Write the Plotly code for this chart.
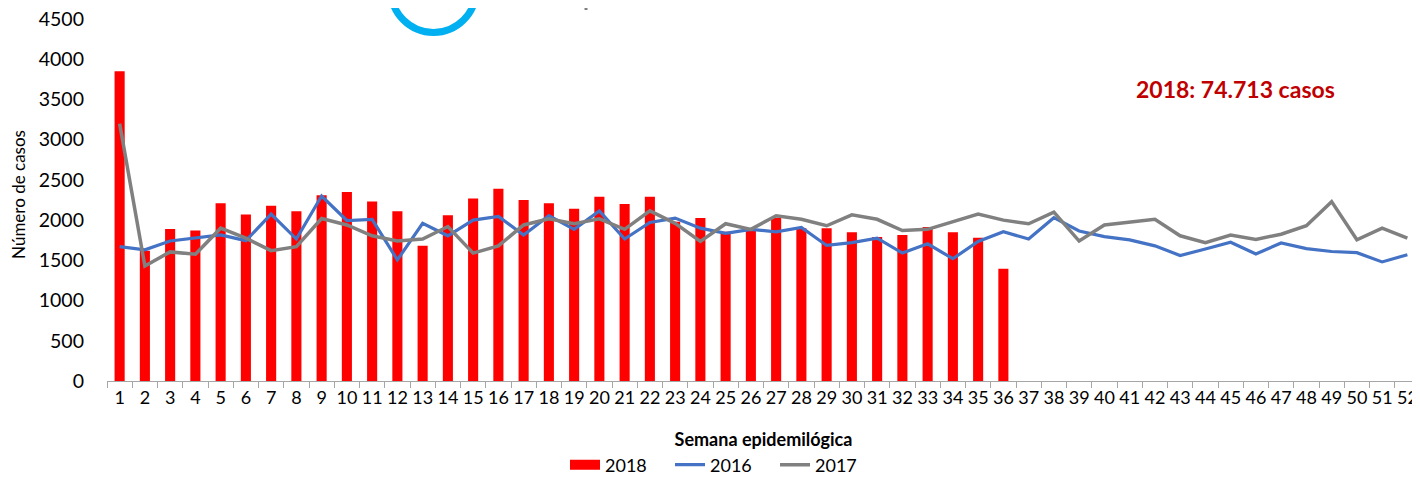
import plotly.graph_objects as go

weeks = [str(i) for i in range(1, 53)]

cases_2018 = [3850, 1620, 1890, 1870, 2210, 2070, 2180, 2110, 2310, 2350,
              2230, 2110, 1680, 2060, 2270, 2390, 2250, 2210, 2140, 2290,
              2200, 2290, 1980, 2025, 1855, 1880, 2030, 1900, 1900, 1850,
              1790, 1815, 1915, 1850, 1780, 1395]

cases_2016 = [1670, 1630, 1740, 1780, 1815, 1745, 2075, 1765, 2300, 1995,
              2010, 1505, 1960, 1805, 2000, 2045, 1815, 2055, 1885, 2115,
              1765, 1970, 2025, 1900, 1835, 1885, 1855, 1910, 1685, 1720,
              1775, 1590, 1705, 1520, 1735, 1855, 1765, 2030, 1865, 1795,
              1755, 1680, 1560, 1640, 1725, 1580, 1715, 1645, 1610, 1595,
              1480, 1570]

cases_2017 = [3200, 1430, 1605, 1575, 1900, 1775, 1620, 1670, 2020, 1940,
              1805, 1740, 1765, 1920, 1590, 1680, 1940, 2015, 1955, 2015,
              1885, 2115, 1960, 1735, 1955, 1885, 2055, 2010, 1930, 2065,
              2010, 1870, 1885, 1975, 2075, 2000, 1955, 2100, 1740, 1940,
              1975, 2010, 1805, 1720, 1815, 1760, 1825, 1930, 2230, 1755,
              1900, 1775]

y_ticks = [0, 500, 1000, 1500, 2000, 2500, 3000, 3500, 4000, 4500]

FONT = "Lato"

fig = go.Figure()
fig.add_trace(go.Bar(x=weeks[:len(cases_2018)], y=cases_2018, name="2018",
                     marker=dict(color="#FF0000", line=dict(width=0)),
                     showlegend=False))
# legend entry for bars drawn as a wide red rectangle (Excel style)
fig.add_trace(go.Scatter(x=[None], y=[None], name="2018", mode="lines",
                         line=dict(color="#FF0000", width=12)))
fig.add_trace(go.Scatter(x=weeks, y=cases_2016, name="2016", mode="lines",
                         line=dict(color="#4472C4", width=3.2)))
fig.add_trace(go.Scatter(x=weeks, y=cases_2017, name="2017", mode="lines",
                         line=dict(color="#808080", width=3.5)))

# page has an 8px body margin: figure is shifted by OFF in x and y
OFF = 8
W, H = 1420 - OFF, 479 - OFF
# value axis: 0 at page y=381, 4500 at page y=19
Y0_PAGE, YTOP_PAGE, YMAX = 381, 19, 4500
per_px = YMAX / (Y0_PAGE - YTOP_PAGE)
# plot area in page pixels: x 107..1420, y OFF..381 (extra headroom above 4500)
L, R, T = 107 - OFF, 0, 0
B = H - (Y0_PAGE - OFF)
pw, ph = W - L - R, H - T - B
y_range_top = ph * per_px

def px(x):
    return (x - OFF - L) / pw

def py(y):
    return (H - B - (y - OFF)) / ph

fig.update_layout(
    width=W, height=H,
    margin=dict(l=L, r=R, t=T, b=B, autoexpand=False),
    plot_bgcolor="white", paper_bgcolor="white",
    bargap=0.6,
    font=dict(family=FONT, size=19, color="#000000"),
    showlegend=True,
    legend=dict(orientation="h", x=px(565), y=py(465), xanchor="left",
                yanchor="middle", font=dict(size=18, family=FONT),
                entrywidth=60, entrywidthmode="pixels",
                tracegroupgap=0, bgcolor="rgba(0,0,0,0)"),
    xaxis=dict(
        type="category", range=[-0.5, 51.5], automargin=False,
        tickson="boundaries", ticks="outside", ticklen=6,
        tickcolor="#A6A6A6", tickwidth=1.3, tickangle=0,
        showline=True, linecolor="#A6A6A6", linewidth=1.3,
        showgrid=False, zeroline=False, ticklabeloverflow="allow",
        tickfont=dict(size=18, family=FONT),
        title=dict(text="<b>Semana epidemilógica</b>", standoff=26,
                   font=dict(size=18, family=FONT)),
    ),
    yaxis=dict(
        range=[0, y_range_top], tickmode="array", tickvals=y_ticks,
        automargin=False, ticklabeloverflow="allow",
        showgrid=False, zeroline=False, showline=False, ticks="",
        ticklabelstandoff=22,
        tickfont=dict(size=19.5, family=FONT),
        title=dict(text="Número de casos", standoff=10,
                   font=dict(size=17, family=FONT)),
    ),
)

fig.add_annotation(text="<b>2018: 74.713 casos</b>", xref="paper", yref="paper",
                   x=px(1235), y=py(89), xanchor="center", yanchor="middle",
                   showarrow=False, font=dict(size=23, color="#C00000", family=FONT))

# partial logo at the top
fig.add_shape(type="circle", xref="paper", yref="paper",
              x0=px(391), x1=px(476), y0=py(32.5), y1=py(-52.5),
              line=dict(color="#00B0F0", width=7), layer="above")
fig.add_shape(type="line", xref="paper", yref="paper",
              x0=px(586), x1=px(586), y0=py(0), y1=py(10),
              line=dict(color="#7F7F7F", width=3), layer="above")

fig.write_html("out.html")
